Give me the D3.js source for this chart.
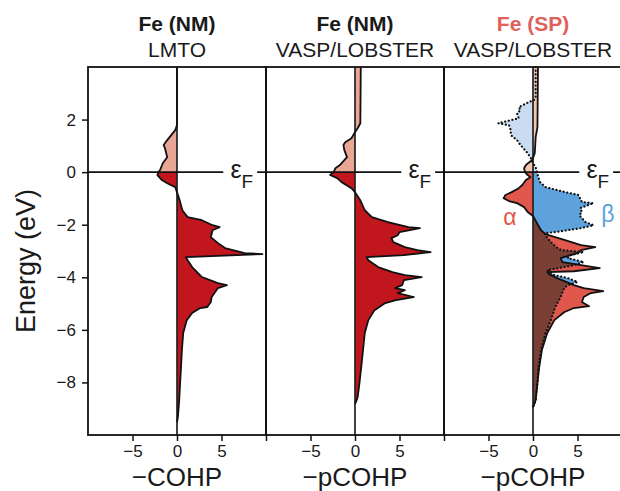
<!DOCTYPE html>
<html>
<head>
<meta charset="utf-8">
<script src="https://cdn.jsdelivr.net/npm/d3@7/dist/d3.min.js"></script>
<style>
    body { margin: 0; background: #fff; }
    svg text { font-family: "Liberation Sans", Arial, Helvetica, sans-serif; fill: #1a1a1a; }
</style>
</head>
<body>
<div id="chart"></div>
<script>

// tick values
var energyTicks = [2, 0, -2, -4, -6, -8];
var cohpTicks = [-5, 0, 5, 10];

// panel titles / axis titles
var titleTop = ["Fe (NM)", "Fe (NM)", "Fe (SP)"];
var titleBottom = ["LMTO", "VASP/LOBSTER", "VASP/LOBSTER"];
var xTitles = ["\u2212COHP", "\u2212pCOHP", "\u2212pCOHP"];

// [energy (eV), -COHP]
var lmtoNM = [[4.0, 0], [1.79, 0], [1.60, -0.2], [1.22, -1.1], [1.03, -1.5], [0.91, -1.35],
    [0.57, -1.1], [0.34, -1.6], [0.08, -1.9], [0, -2.1], [-0.11, -2.2], [-0.30, -1.7],
    [-0.42, -1.1], [-0.57, -0.2], [-0.76, 0], [-1.07, 0.3], [-1.45, 0.6], [-1.71, 1.2],
    [-1.83, 2.8], [-2.02, 4.0], [-2.09, 4.8], [-2.21, 4.0], [-2.47, 3.8], [-2.70, 4.6],
    [-2.89, 5.4], [-3.08, 7.6], [-3.12, 9.6], [-3.23, 1.0], [-3.35, 1.2], [-3.61, 1.7],
    [-3.99, 2.8], [-4.22, 4.6], [-4.30, 5.6], [-4.41, 4.6], [-4.75, 3.9], [-4.94, 3.8],
    [-5.13, 3.4], [-5.17, 2.6], [-5.36, 1.7], [-5.63, 1.1], [-6.12, 0.7], [-6.77, 0.55],
    [-7.42, 0.45], [-8.03, 0.35], [-8.67, 0.25], [-9.32, 0.1], [-9.51, 0]];

var vaspNM = [[4.0, 0.65], [1.86, 0.6], [1.67, 0.3], [1.52, 0], [1.29, -0.4], [1.14, -1.1],
    [1.03, -1.3], [0.84, -1.2], [0.57, -0.9], [0.46, -1.2], [0.27, -1.7], [0.15, -2.2],
    [0, -2.4], [-0.11, -2.8], [-0.23, -2.0], [-0.38, -1.5], [-0.61, -0.4], [-0.76, 0],
    [-1.07, 0.6], [-1.45, 1.1], [-1.71, 1.9], [-1.90, 3.7], [-2.09, 6.0], [-2.13, 7.3],
    [-2.28, 5.0], [-2.40, 4.8], [-2.51, 4.1], [-2.66, 4.3], [-2.85, 5.6], [-2.97, 7.0],
    [-3.04, 8.5], [-3.16, 5.5], [-3.23, 1.3], [-3.35, 1.5], [-3.61, 2.6], [-3.80, 4.2],
    [-3.92, 5.6], [-3.99, 7.5], [-4.11, 5.5], [-4.30, 5.3], [-4.41, 4.5], [-4.49, 5.6],
    [-4.60, 4.8], [-4.75, 6.6], [-4.87, 4.6], [-4.98, 3.4], [-5.25, 2.2], [-5.63, 1.5],
    [-6.12, 1.1], [-6.77, 0.9], [-7.42, 0.7], [-8.03, 0.5], [-8.56, 0.3], [-8.75, 0.1],
    [-8.82, 0]];

var spAlpha = [[4.0, 0.56], [1.71, 0.5], [1.33, 0.3], [0.72, 0.2], [0.46, -0.1], [0.27, -0.8],
    [0.15, -1.0], [0, -0.9], [-0.11, -0.6], [-0.19, -0.3], [-0.30, -0.8], [-0.49, -1.2],
    [-0.61, -1.6], [-0.76, -2.4], [-0.87, -3.1], [-0.99, -3.3], [-1.10, -2.7], [-1.18, -1.8],
    [-1.33, -1.0], [-1.52, -0.6], [-1.67, 0], [-1.94, 0.45], [-2.21, 0.9], [-2.36, 1.4],
    [-2.59, 3.6], [-2.78, 5.4], [-2.85, 7.0], [-2.97, 5.4], [-3.08, 5.0], [-3.27, 3.1],
    [-3.42, 3.3], [-3.54, 5.4], [-3.65, 7.5], [-3.77, 4.6], [-3.80, 1.6], [-3.88, 1.8],
    [-4.03, 2.7], [-4.30, 4.6], [-4.41, 5.7], [-4.53, 7.9], [-4.60, 6.5], [-4.75, 5.7],
    [-4.94, 5.5], [-5.10, 6.3], [-5.17, 4.6], [-5.33, 3.5], [-5.63, 2.4], [-6.12, 1.6],
    [-6.77, 1.0], [-7.42, 0.7], [-8.03, 0.5], [-8.67, 0.3], [-8.86, 0.1], [-8.94, 0]];

var spBeta = [[4.0, 0.3], [2.85, 0.3], [2.74, 0.1], [2.66, -0.5], [2.47, -1.6], [2.36, -1.4],
    [2.24, -1.8], [2.05, -1.6], [1.86, -3.9], [1.79, -2.7], [1.60, -2.5], [1.41, -2.5],
    [1.22, -1.8], [1.03, -1.4], [0.76, -0.7], [0.57, -0.3], [0.34, 0], [0.19, 0.3],
    [0, 0.45], [-0.19, 0.6], [-0.38, 0.8], [-0.57, 1.4], [-0.76, 3.6], [-0.87, 5.1],
    [-1.14, 5.5], [-1.18, 6.8], [-1.37, 5.3], [-1.52, 5.5], [-1.64, 5.2], [-1.90, 5.9],
    [-2.02, 6.8], [-2.13, 5.4], [-2.28, 2.5], [-2.32, 1.3], [-2.51, 1.6], [-2.66, 2.0],
    [-2.85, 2.6], [-2.97, 3.2], [-3.04, 5.7], [-3.16, 4.2], [-3.27, 3.9], [-3.42, 5.7],
    [-3.54, 4.6], [-3.73, 1.6], [-3.92, 2.4], [-4.03, 3.9], [-4.18, 5.0], [-4.30, 3.9],
    [-4.41, 3.5], [-4.75, 3.1], [-5.13, 2.5], [-5.63, 2.0], [-6.12, 1.4], [-6.77, 0.9],
    [-7.42, 0.6], [-8.03, 0.5], [-8.67, 0.3], [-8.86, 0.1], [-8.94, 0]];


var margin = { top: 67, left: 88 };
var panelW = 178, panelH = 368;

var svg = d3.select("#chart").append("svg")
    .attr("width", 620)
    .attr("height", 491);

var defs = svg.append("defs");

// shared energy scale
var y = d3.scaleLinear().domain([4, -10]).range([margin.top, margin.top + panelH]);

// above / below the Fermi level
defs.append("clipPath").attr("id", "clipAbove")
    .append("rect").attr("x", 0).attr("y", 0).attr("width", 620).attr("height", y(0));
defs.append("clipPath").attr("id", "clipBelow")
    .append("rect").attr("x", 0).attr("y", y(0)).attr("width", 620).attr("height", 491 - y(0));


/*
 *  CohpPanel - one column of the figure
 */

CohpPanel = function(_index, _series) {
    this.index = _index;
    this.series = _series;
    this.initVis();
};

CohpPanel.prototype.initVis = function() {
    var vis = this;

    vis.left = margin.left + vis.index * panelW;
    vis.x = d3.scaleLinear().domain([-10, 10]).range([vis.left, vis.left + panelW]);

    vis.g = svg.append("g").attr("class", "panel");

    vis.area = d3.area()
        .y(function(d) { return y(d[0]); })
        .x0(vis.x(0))
        .x1(function(d) { return vis.x(d[1]); });

    vis.line = d3.line()
        .y(function(d) { return y(d[0]); })
        .x(function(d) { return vis.x(d[1]); });

    vis.updateVis();
};

CohpPanel.prototype.fillSplit = function(data, colAbove, colBelow, clip) {
    var vis = this;
    [["clipAbove", colAbove], ["clipBelow", colBelow]].forEach(function(c) {
        var p = vis.g.append("g").attr("clip-path", "url(#" + c[0] + ")")
            .append("path")
            .attr("d", vis.area(data))
            .attr("fill", c[1]);
        if (clip) p.attr("clip-path", "url(#" + clip + ")");
    });
};

CohpPanel.prototype.updateVis = function() {
    var vis = this;
    var s = vis.series;

    if (s.length == 1) {
        vis.fillSplit(s[0], "#eaa694", "#c2161e");
    } else {
        // alpha, beta and their overlap
        var clipId = "betaClip" + vis.index;
        defs.append("clipPath").attr("id", clipId)
            .append("path").attr("d", vis.area(s[1]));

        vis.fillSplit(s[0], "#f4c6b2", "#e1574b");
        vis.fillSplit(s[1], "#c9dcf2", "#5ea2dd");
        vis.fillSplit(s[0], "#e9c0b0", "#7b4035", clipId);
    }

    // zero line
    vis.g.append("line")
        .attr("x1", vis.x(0)).attr("x2", vis.x(0))
        .attr("y1", y(4)).attr("y2", y(-10))
        .attr("stroke", "#222").attr("stroke-width", 1.7);

    // outlines
    vis.g.append("path")
        .attr("d", vis.line(s[0]))
        .attr("fill", "none")
        .attr("stroke", "#111")
        .attr("stroke-width", 1.8)
        .attr("stroke-linejoin", "round");

    if (s.length > 1) {
        vis.g.append("path")
            .attr("d", vis.line(s[1]))
            .attr("fill", "none")
            .attr("stroke", "#111")
            .attr("stroke-width", 2.2)
            .attr("stroke-dasharray", "0.1,3.6")
            .attr("stroke-linecap", "round");

        vis.g.append("text")
            .attr("x", vis.x(-2.6)).attr("y", 225)
            .attr("text-anchor", "middle")
            .style("font-size", "23px").style("fill", "#e1574b")
            .text("\u03b1");
        vis.g.append("text")
            .attr("x", vis.x(8.4)).attr("y", 222)
            .attr("text-anchor", "middle")
            .style("font-size", "23px").style("fill", "#5ea2dd")
            .text("\u03b2");
    }

    // Fermi level, with a gap for the label
    [[-10, 5.2], [9.0, 10]].forEach(function(seg) {
        vis.g.append("line")
            .attr("x1", vis.x(seg[0])).attr("x2", vis.x(seg[1]))
            .attr("y1", y(0)).attr("y2", y(0))
            .attr("stroke", "#111").attr("stroke-width", 1.7);
    });
    var ef = vis.g.append("text")
        .attr("x", vis.x(6.0)).attr("y", y(0) + 6)
        .style("font-size", "25px");
    ef.append("tspan").text("\u03b5");
    ef.append("tspan").attr("dy", 10).style("font-size", "19px").text("F");

    // frame
    vis.g.append("rect")
        .attr("x", vis.left).attr("y", y(4))
        .attr("width", panelW).attr("height", panelH)
        .attr("fill", "none").attr("stroke", "#111").attr("stroke-width", 1.8);

    // x axis
    var xAxis = d3.axisBottom(vis.x)
        .tickValues(cohpTicks)
        .tickSize(6)
        .tickPadding(4)
        .tickFormat(function(d) { return Math.abs(d) == 10 ? "" : d3.format("d")(d); });

    var ax = vis.g.append("g")
        .attr("transform", "translate(0," + y(-10) + ")")
        .call(xAxis);
    ax.select(".domain").remove();
    ax.selectAll("line").attr("stroke", "#111").attr("stroke-width", 1.5);
    ax.selectAll("text").style("font-size", "17px");

    vis.g.append("text")
        .attr("x", vis.x(0)).attr("y", 486)
        .attr("text-anchor", "middle")
        .style("font-size", "26px")
        .text(xTitles[vis.index]);

    // titles
    vis.g.append("text")
        .attr("x", vis.x(0)).attr("y", 31)
        .attr("text-anchor", "middle")
        .style("font-size", "21px").style("font-weight", "bold")
        .style("fill", vis.index == 2 ? "#e0605a" : "#1a1a1a")
        .text(titleTop[vis.index]);
    vis.g.append("text")
        .attr("x", vis.x(0)).attr("y", 57)
        .attr("text-anchor", "middle")
        .style("font-size", "21px")
        .text(titleBottom[vis.index]);
};


var panels = [
    new CohpPanel(0, [lmtoNM]),
    new CohpPanel(1, [vaspNM]),
    new CohpPanel(2, [spAlpha, spBeta])
];

// energy axis
var yAxis = d3.axisLeft(y)
    .tickValues(energyTicks)
    .tickSize(6)
    .tickPadding(6)
    .tickFormat(d3.format("d"));

var yg = svg.append("g")
    .attr("transform", "translate(" + margin.left + ",0)")
    .call(yAxis);
yg.select(".domain").remove();
yg.selectAll("line").attr("stroke", "#111").attr("stroke-width", 1.5);
yg.selectAll("text").style("font-size", "17px");

svg.append("text")
    .attr("transform", "rotate(-90)")
    .attr("x", -261).attr("y", 35)
    .attr("text-anchor", "middle")
    .style("font-size", "27px")
    .text("Energy (eV)");

</script>
</body>
</html>
